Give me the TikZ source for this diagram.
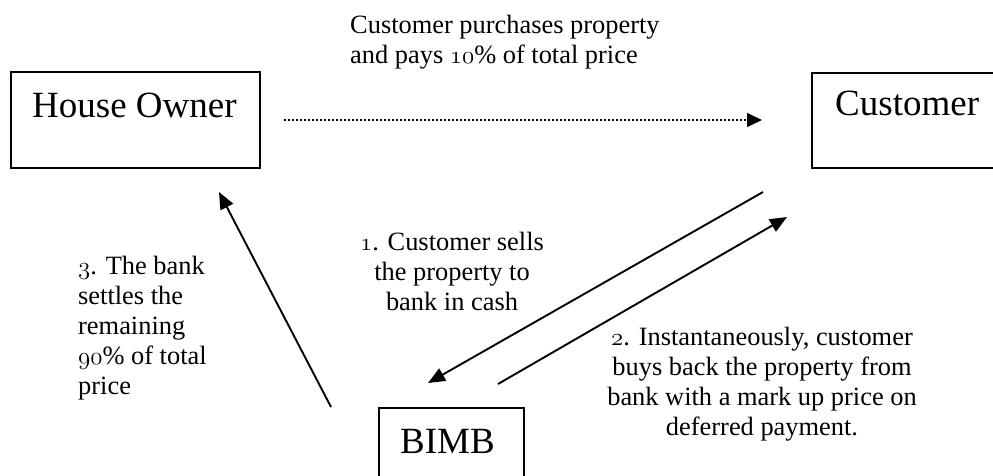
\documentclass[tikz,border=0pt]{standalone}
\usepackage{fontspec}
\setmainfont{Liberation Serif}
\usetikzlibrary{arrows.meta}
\newcommand\osf[1]{{\fontsize{29}{30}\usefont{OML}{lmm}{m}{it}#1}}
\tikzset{
  box/.style={draw, line width=2pt, rectangle, inner sep=0pt},
  big/.style={font=\fontsize{37}{44}\selectfont, inner sep=0pt},
  lbl/.style={font=\fontsize{26.4}{30}\selectfont, inner sep=0pt},
  arr/.style={line width=1.9pt, -{Triangle[length=17pt,width=14pt]}},
  dotarr/.style={line width=1.5pt, dash pattern=on 1.5pt off 2.5pt, -{Triangle[length=15pt,width=14pt]}}
}
\begin{document}
\begin{tikzpicture}[x=1pt,y=-1pt]
\useasboundingbox (0,0) rectangle (993,475);
\clip (0,0) rectangle (993,475);
% boxes
\node[box, minimum width=249pt, minimum height=96pt, anchor=north west] (owner) at (10,71) {};
\node[box, minimum width=230pt, minimum height=95pt, anchor=north west] (cust) at (811,72) {};
\node[box, minimum width=145pt, minimum height=100pt, anchor=north west] (bimb) at (378,407) {};
\node[big, anchor=base west] (ownerT) at (32,117) {House Owner};
\node[big, anchor=base west] (custT) at (835,115) {Customer};
\node[big, anchor=base west] (bimbT) at (400,453) {BIMB};
% labels
\node[lbl, anchor=north west, align=left] (top) at (350,14.5)
  {Customer purchases property\\and pays \osf{10}\% of total price};
\node[lbl, anchor=north, align=center] (l1) at (452,231.5)
  {\osf{1}. Customer sells\\the property to\\bank in cash};
\node[lbl, anchor=north, align=center] (l2) at (762,326.5)
  {\osf{2}. Instantaneously, customer\\buys back the property from\\bank with a mark up price on\\deferred payment.};
\node[lbl, anchor=north west, align=left] (l3) at (78,255.5)
  {\osf{3}. The bank\\settles the\\remaining\\\osf{90}\% of total\\price};
% connector end points
\coordinate (a1s) at (763,192);
\coordinate (a1e) at (428,383);
\coordinate (a2s) at (498,384);
\coordinate (a2e) at (787,217);
\coordinate (a3s) at (331,407);
\coordinate (a3e) at (219,192);
% connectors
\draw[dotarr, shorten <=23pt, shorten >=49pt] (owner.east) -- (owner.east -| cust.west);
\draw[arr] (a1s) -- (a1e);
\draw[arr] (a2s) -- (a2e);
\draw[arr] (a3s) -- (a3e);
\end{tikzpicture}
\end{document}
